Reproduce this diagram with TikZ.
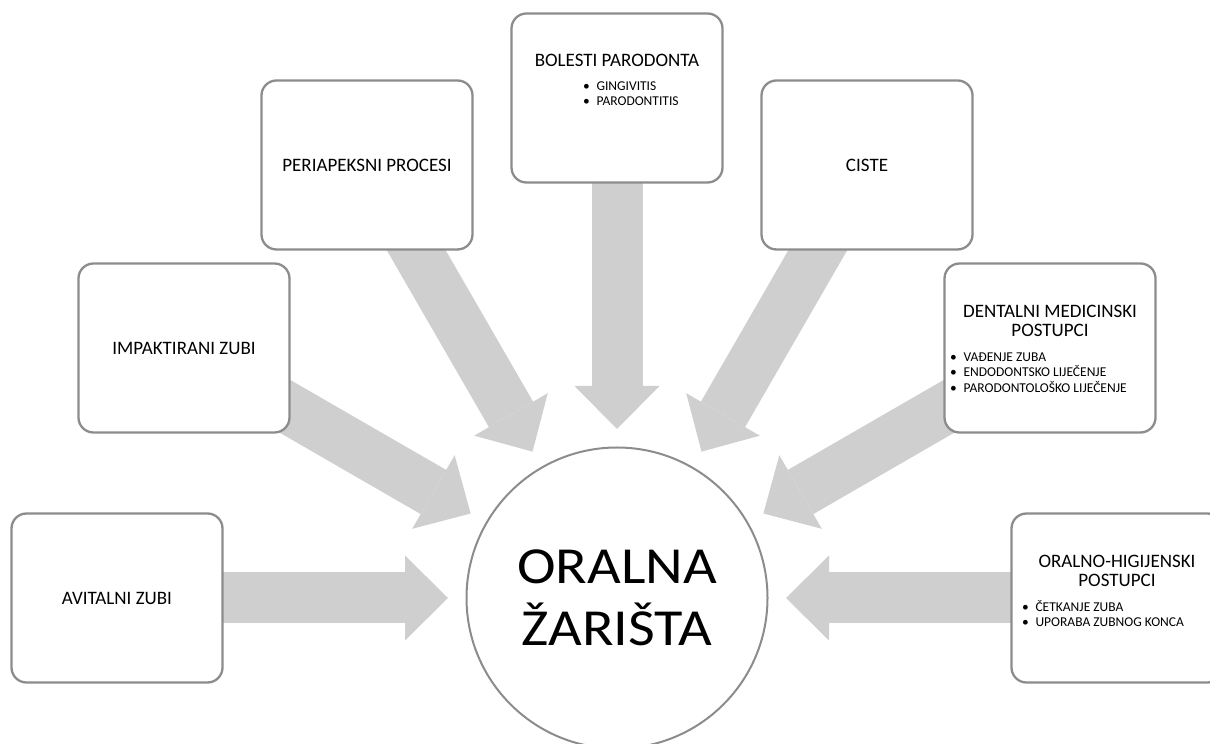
\documentclass[tikz,border=0pt]{standalone}
\usepackage{fontspec}
\setmainfont{Carlito}
\usetikzlibrary{calc,arrows.meta,backgrounds,positioning}

\definecolor{arrowgray}{RGB}{207,207,207}
\definecolor{framegray}{RGB}{140,140,140}

\newcommand{\itm}[1]{\makebox[13.5pt][l]{\textbullet}#1}
\newcommand{\wide}[1]{\scalebox{1.12}[1]{#1}}

\tikzset{
    box/.style={draw=framegray, line width=2.3pt, fill=white, rounded corners=15pt,
        minimum width=211pt, minimum height=169pt, inner sep=0pt,
        font=\fontsize{19}{19}\selectfont},
    head/.style={inner sep=0pt, anchor=base, font=\fontsize{19}{19}\selectfont},
    item/.style={inner sep=0pt, anchor=base west, font=\fontsize{13.5}{15}\selectfont},
    arr/.style={draw=arrowgray, line width=51pt,
        -{Triangle[width=85pt, length=43pt, line width=0pt]}},
}

\begin{document}
\begin{tikzpicture}[x=1pt, y=1pt]
    \def\dist{500}
    \def\tip{169pt}
    \useasboundingbox (0,0) rectangle (1210,744);
    \clip (0,0) rectangle (1210,744);

    % Centre
    \node[circle, draw=framegray, line width=2pt, fill=white, minimum size=301pt,
        inner sep=0pt, align=center, font=\fontsize{52}{62}\selectfont]
        (foci) at (617,146) {\wide{ORALNA}\\\wide{ŽARIŠTA}};

    % Boxes
    \node[box] (avital) at ([shift={(180:\dist)}]foci.center) {AVITALNI ZUBI};
    \node[box] (impakt) at ([shift={(150:\dist)}]foci.center) {IMPAKTIRANI ZUBI};
    \node[box] (periap) at ([shift={(120:\dist)}]foci.center) {PERIAPEKSNI PROCESI};
    \node[box] (parod) at ([shift={(90:\dist)}]foci.center) {};
    \node[box] (ciste) at ([shift={(60:\dist)}]foci.center) {CISTE};
    \node[box] (dent) at ([shift={(30:\dist)}]foci.center) {};
    \node[box] (hig) at ([shift={(0:\dist)}]foci.center) {};

    % Box texts
    \node[head] (parod-h) at ([yshift=-54pt]parod.north) {BOLESTI PARODONTA};
    \foreach \t [count=\i] in {GINGIVITIS, PARODONTITIS} {
        \node[item] (parod-\i) at ([shift={(72.5,{-78-15*(\i-1)})}]parod.north west) {\itm{\t}};
    }

    \node[head] (dent-h1) at ([yshift=-55pt]dent.north) {DENTALNI MEDICINSKI};
    \node[head] (dent-h2) at ([yshift=-74pt]dent.north) {POSTUPCI};
    \foreach \t [count=\i] in {VAĐENJE ZUBA, ENDODONTSKO LIJEČENJE, PARODONTOLOŠKO LIJEČENJE} {
        \node[item] (dent-\i) at ([shift={(6.5,{-99-15.5*(\i-1)})}]dent.north west) {\itm{\t}};
    }

    \node[head] (hig-h1) at ([yshift=-55pt]hig.north) {ORALNO-HIGIJENSKI};
    \node[head] (hig-h2) at ([yshift=-74pt]hig.north) {POSTUPCI};
    \foreach \t [count=\i] in {ČETKANJE ZUBA, UPORABA ZUBNOG KONCA} {
        \node[item] (hig-\i) at ([shift={(11.5,{-99-15*(\i-1)})}]hig.north west) {\itm{\t}};
    }

    % Arrows
    \begin{pgfonlayer}{background}
        \foreach \b in {avital, impakt, periap, parod, ciste, dent, hig} {
            \coordinate (\b-tip) at ($(foci.center)!\tip!(\b.center)$);
            \draw[arr] (\b.center) -- (\b-tip);
        }
    \end{pgfonlayer}

\end{tikzpicture}
\end{document}
